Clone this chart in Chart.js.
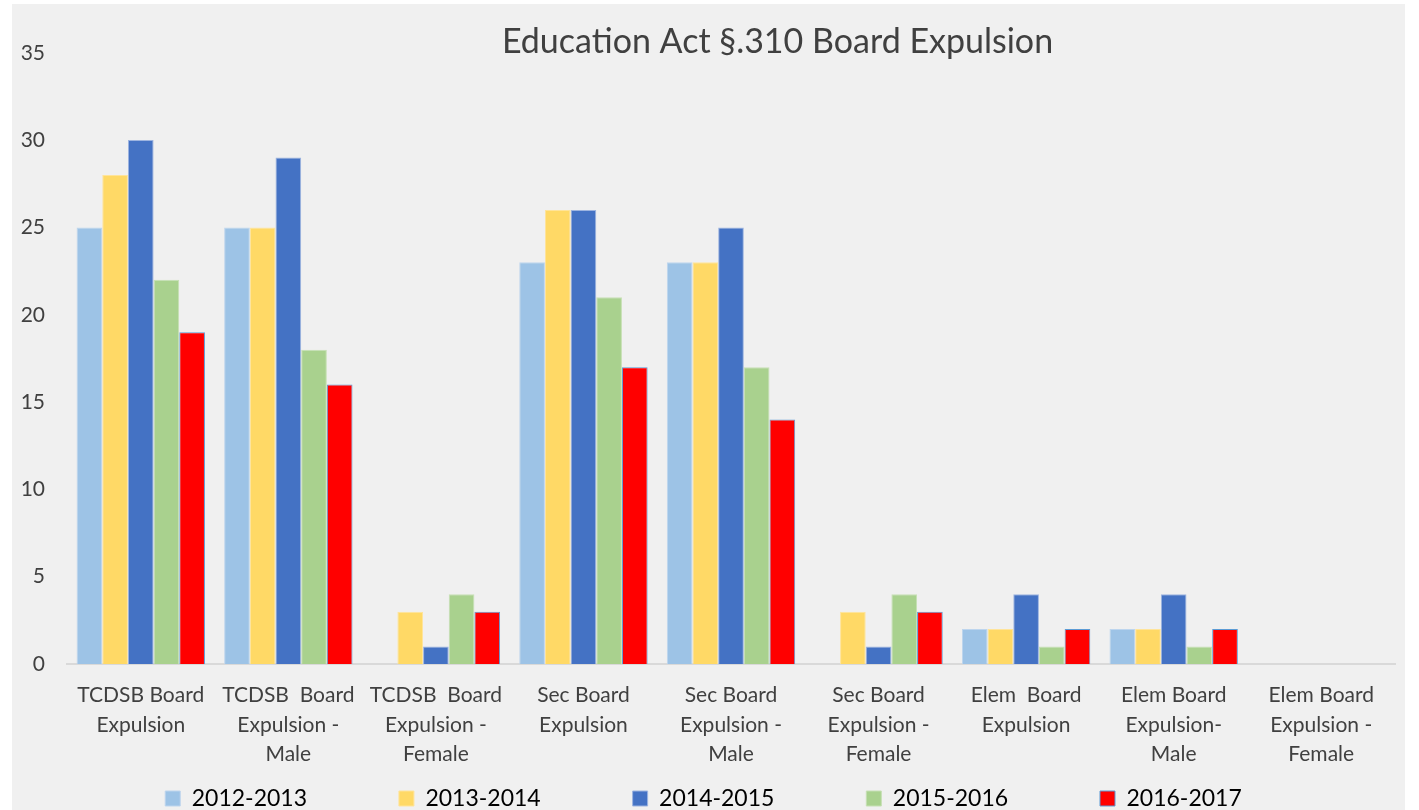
<!DOCTYPE html>
<html>
<head>
<meta charset="utf-8">
<script src="https://cdn.jsdelivr.net/npm/chart.js@4.4.0/dist/chart.umd.min.js"></script>
<style>
  html, body { margin: 0; padding: 0; background: #ffffff; }
  #wrap { position: absolute; left: 12px; top: 4px; width: 1393px; height: 806px; }
</style>
</head>
<body>
<div id="wrap"><canvas id="chart"></canvas></div>
<script>
const categories = [
  ['TCDSB Board', 'Expulsion'],
  ['TCDSB  Board', 'Expulsion -', 'Male'],
  ['TCDSB  Board', 'Expulsion -', 'Female'],
  ['Sec Board', 'Expulsion'],
  ['Sec Board', 'Expulsion -', 'Male'],
  ['Sec Board', 'Expulsion -', 'Female'],
  ['Elem  Board', 'Expulsion'],
  ['Elem Board', 'Expulsion-', 'Male'],
  ['Elem Board', 'Expulsion -', 'Female']
];
const seriesNames = ['2012-2013', '2013-2014', '2014-2015', '2015-2016', '2016-2017'];
const y2012 = [25, 25, 0, 23, 23, 0, 2, 2, 0];
const y2013 = [28, 25, 3, 26, 23, 3, 2, 2, 0];
const y2014 = [30, 29, 1, 26, 25, 1, 4, 4, 0];
const y2015 = [22, 18, 4, 21, 17, 4, 1, 1, 0];
const y2016 = [19, 16, 3, 17, 14, 3, 2, 2, 0];
const yTicks = [0, 5, 10, 15, 20, 25, 30, 35];

const colors = ['#9DC3E6', '#FFD966', '#4472C4', '#A9D18E', '#FF0000'];
const borders = ['#BDD5EE', '#FFE49A', '#9DB4E0', '#C6E0B4', '#5B9BD5'];

// paint the grey chart background, nudge the title to the right like the original
const bgPlugin = {
  id: 'bg',
  afterLayout(chart) {
    chart.titleBlock.left += 148;
  },
  beforeDraw(chart) {
    const ctx = chart.ctx;
    ctx.save();
    ctx.fillStyle = '#F0F0F0';
    ctx.fillRect(0, 0, chart.width, chart.height);
    ctx.restore();
  }
};

const values = [y2012, y2013, y2014, y2015, y2016];

new Chart(document.getElementById('chart'), {
  type: 'bar',
  data: {
    labels: categories,
    datasets: seriesNames.map((name, i) => ({
      label: name,
      data: values[i],
      backgroundColor: colors[i],
      borderColor: borders[i],
      borderWidth: 1,
      categoryPercentage: 0.87,
      barPercentage: 1
    }))
  },
  options: {
    responsive: true,
    maintainAspectRatio: false,
    animation: false,
    layout: { padding: { left: 0, right: 10, top: 18, bottom: -10 } },
    plugins: {
      title: {
        display: true,
        text: 'Education Act §.310 Board Expulsion',
        color: '#404040',
        font: { family: 'Lato', size: 34, weight: 'normal' },
        padding: { top: 0, bottom: -10 }
      },
      legend: {
        position: 'bottom',
        labels: {
          color: '#000000',
          font: { family: 'Lato', size: 23 },
          boxWidth: 15,
          boxHeight: 15,
          padding: 9.5,
          // spread the entries out: trailing spaces on all but the last
          generateLabels(chart) {
            const items = Chart.defaults.plugins.legend.labels.generateLabels(chart);
            items.forEach((it, i) => {
              if (i < items.length - 1) it.text = it.text + ' '.repeat(14);
            });
            return items;
          }
        }
      },
      tooltip: { enabled: false }
    },
    scales: {
      x: {
        grid: { display: false },
        border: { color: '#D9D9D9', width: 2 },
        ticks: {
          color: '#404040',
          font: { family: 'Lato', size: 21, lineHeight: 1.42 },
          padding: 8,
          maxRotation: 0
        }
      },
      y: {
        min: 0,
        max: 35,
        grid: { display: false },
        border: { display: false },
        afterBuildTicks(axis) { axis.ticks = yTicks.map(v => ({ value: v })); },
        afterFit(axis) { axis.width = 55; },
        ticks: {
          color: '#404040',
          font: { family: 'Lato', size: 21 },
          padding: 14
        }
      }
    }
  },
  plugins: [bgPlugin]
});
</script>
</body>
</html>
